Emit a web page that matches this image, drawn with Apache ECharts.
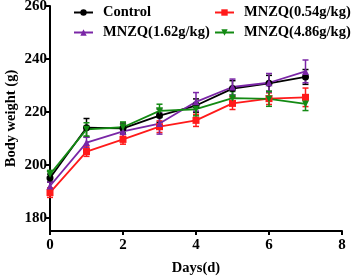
<!DOCTYPE html>
<html>
<head>
<meta charset="utf-8">
<script src="https://cdn.jsdelivr.net/npm/echarts@6/dist/echarts.min.js"></script>
<style>
  html, body { margin: 0; padding: 0; background: #fff; }
  #chart { width: 358px; height: 276px; }
</style>
</head>
<body>
<div id="chart"></div>
<script>
const days = [0, 1, 2, 3, 4, 5, 6, 7]
const yTicks = [180, 200, 220, 240, 260]

const controlMean = [195.0, 214.0, 213.8, 218.6, 222.4, 228.8, 230.8, 233.2]
const controlErr = [1.5, 3.5, 2.0, 2.5, 2.5, 3.0, 3.0, 2.8]
const lowMean = [189.5, 205.0, 209.6, 214.4, 216.8, 223.2, 225.0, 225.5]
const lowErr = [1.8, 1.8, 1.8, 2.2, 2.3, 2.3, 2.2, 3.5]
const midMean = [192.0, 208.4, 212.6, 215.6, 223.8, 229.4, 231.0, 235.3]
const midErr = [1.5, 2.0, 2.0, 4.0, 3.5, 3.0, 3.5, 4.3]
const highMean = [196.4, 213.4, 214.2, 220.4, 221.0, 225.2, 224.9, 223.0]
const highErr = [1.5, 2.5, 2.0, 2.5, 2.5, 2.5, 2.8, 2.5]

const groups = [
  { name: 'Control', mean: controlMean, err: controlErr, color: '#000000', symbol: 'circle', rotate: 0 },
  { name: 'MNZQ(0.54g/kg)', mean: lowMean, err: lowErr, color: '#ff1a1a', symbol: 'rect', rotate: 0 },
  { name: 'MNZQ(1.62g/kg)', mean: midMean, err: midErr, color: '#7a26a6', symbol: 'triangle', rotate: 0 },
  { name: 'MNZQ(4.86g/kg)', mean: highMean, err: highErr, color: '#138a13', symbol: 'triangle', rotate: 180 },
]

const font = '"Liberation Serif", "Times New Roman", serif'

const chart = echarts.init(document.getElementById('chart'))

// error bars drawn with the axes' own coordinate mapping
function errorBars(g) {
  return {
    type: 'custom',
    name: g.name + ' err',
    silent: true,
    z: 3,
    itemStyle: { color: g.color },
    data: days.map((d, i) => [d, g.mean[i] - g.err[i], g.mean[i] + g.err[i]]),
    renderItem(params, api) {
      const lo = api.coord([api.value(0), api.value(1)])
      const hi = api.coord([api.value(0), api.value(2)])
      const cap = 3
      const style = { stroke: g.color, lineWidth: 1.5 }
      return {
        type: 'group',
        children: [
          { type: 'line', shape: { x1: lo[0], y1: lo[1], x2: hi[0], y2: hi[1] }, style },
          { type: 'line', shape: { x1: hi[0] - cap, y1: hi[1], x2: hi[0] + cap, y2: hi[1] }, style },
          { type: 'line', shape: { x1: lo[0] - cap, y1: lo[1], x2: lo[0] + cap, y2: lo[1] }, style },
        ],
      }
    },
  }
}

const legendBase = {
  orient: 'vertical',
  top: 5,
  padding: 0,
  itemWidth: 19,
  itemHeight: 8,
  itemGap: 5,
  textStyle: { fontFamily: font, fontWeight: 'bold', fontSize: 14.5, color: '#000', padding: [0, 0, 0, 5] },
}

const option = {
  animation: false,
  backgroundColor: '#fff',
  grid: { left: 50, right: 16, top: 6, bottom: 45, outerBoundsMode: 'none' },
  legend: [
    { ...legendBase, left: 73, data: ['Control', 'MNZQ(1.62g/kg)'] },
    { ...legendBase, left: 214, data: ['MNZQ(0.54g/kg)', 'MNZQ(4.86g/kg)'] },
  ],
  xAxis: {
    type: 'value',
    min: 0,
    max: 8,
    interval: 2,
    name: 'Days(d)',
    nameLocation: 'middle',
    nameGap: 30,
    nameMoveOverlap: false,
    nameTextStyle: { fontFamily: font, fontWeight: 'bold', fontSize: 14.5, color: '#000' },
    axisLine: { lineStyle: { color: '#000', width: 2 } },
    axisTick: { length: 4, lineStyle: { color: '#000', width: 2 } },
    axisLabel: { fontFamily: font, fontWeight: 'bold', fontSize: 15, color: '#000', margin: 7 },
    splitLine: { show: false },
  },
  yAxis: {
    type: 'value',
    min: 175,
    max: 260,
    name: 'Body weight (g)',
    nameLocation: 'middle',
    nameGap: 31,
    nameMoveOverlap: false,
    nameTextStyle: { fontFamily: font, fontWeight: 'bold', fontSize: 14.5, color: '#000' },
    axisLine: { show: true, lineStyle: { color: '#000', width: 2 } },
    axisTick: { show: true, length: 5, customValues: yTicks, lineStyle: { color: '#000', width: 2 } },
    axisLabel: { fontFamily: font, fontWeight: 'bold', fontSize: 15, color: '#000', margin: 3, customValues: yTicks },
    splitLine: { show: false },
  },
  series: [
    ...groups.map((g) => ({
      type: 'line',
      name: g.name,
      data: days.map((d, i) => [d, g.mean[i]]),
      symbol: g.symbol,
      symbolRotate: g.rotate,
      symbolSize: 7,
      z: 4,
      lineStyle: { color: g.color, width: 1.8 },
      itemStyle: { color: g.color },
    })),
    ...groups.map(errorBars),
  ],
}

chart.setOption(option)
</script>
</body>
</html>
